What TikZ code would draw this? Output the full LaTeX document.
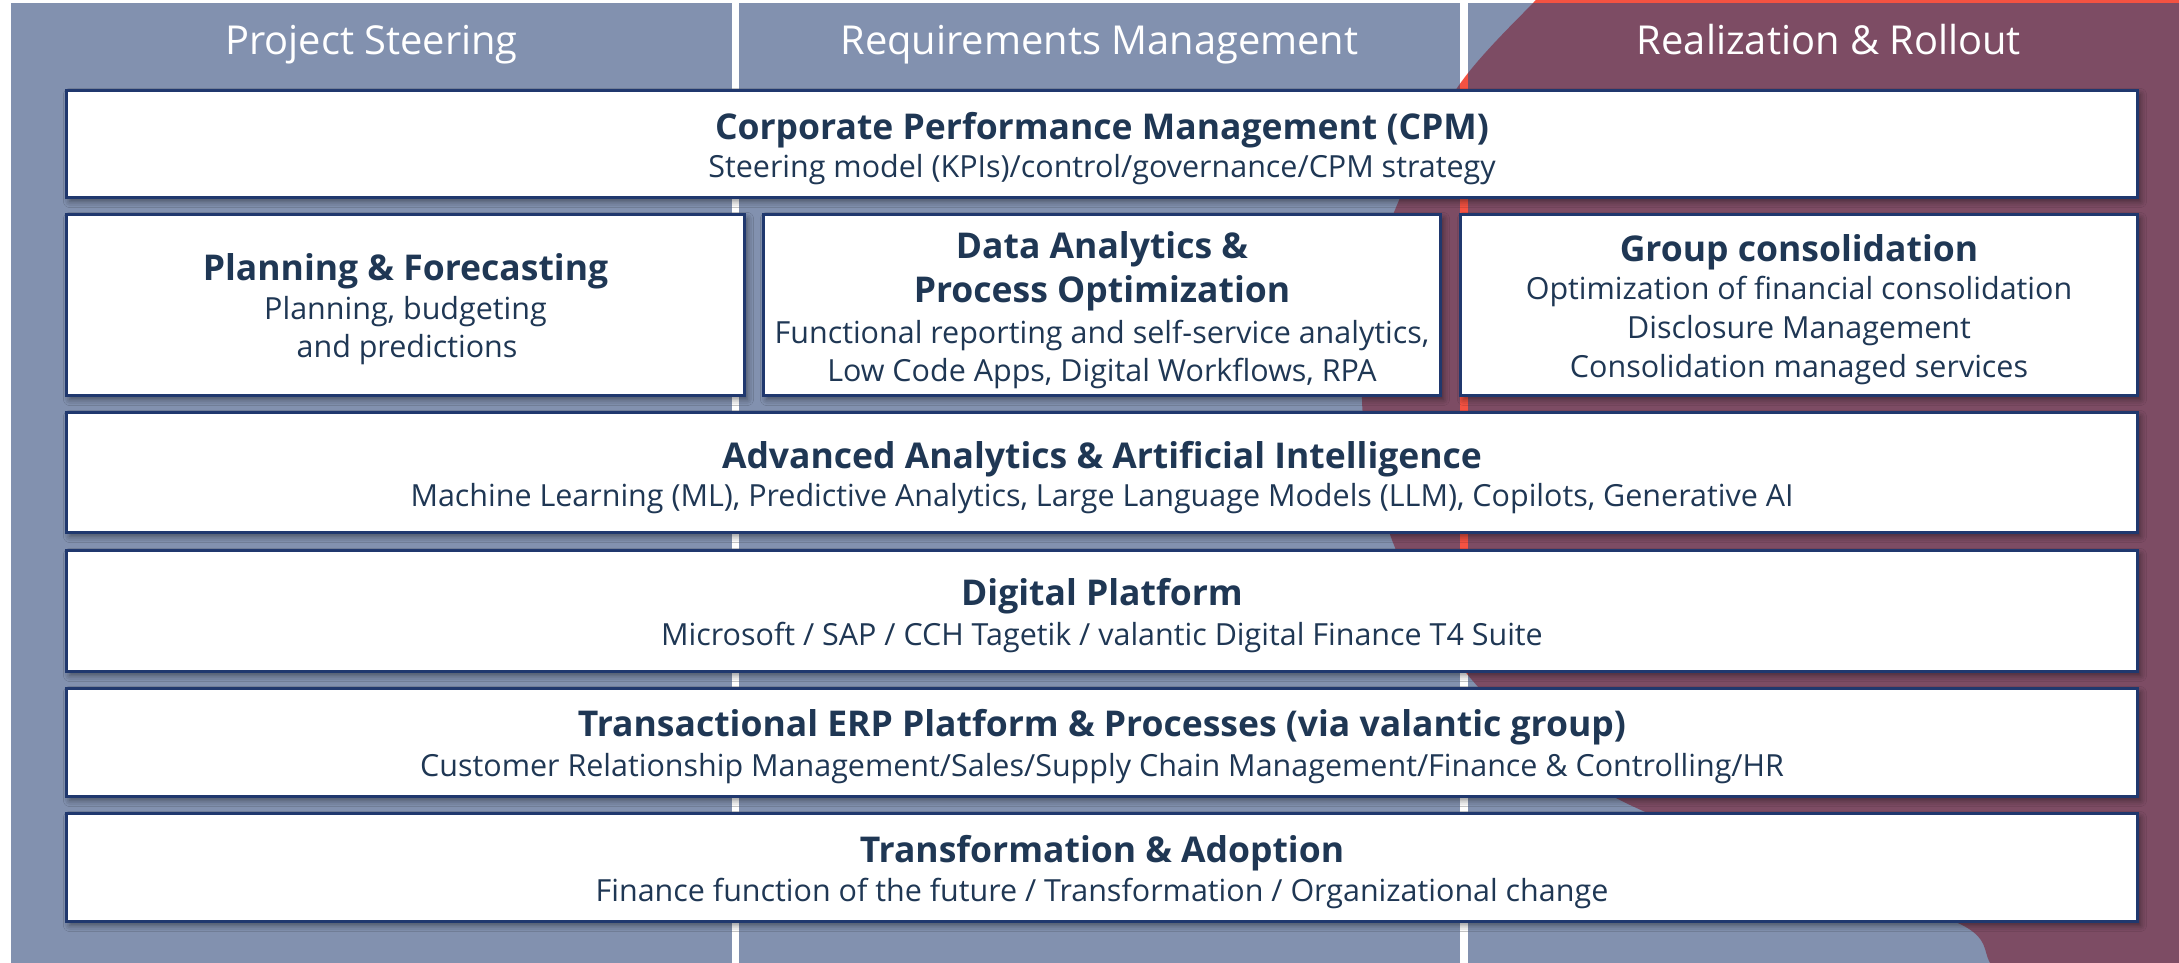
\documentclass[tikz,border=0pt]{standalone}
\usepackage{fontspec}
\setmainfont{Open Sans}
\usetikzlibrary{shadows.blur}
\definecolor{boxline}{RGB}{32,56,110}
\definecolor{txtc}{RGB}{31,55,84}
\definecolor{panelc}{RGB}{47,72,123}
\definecolor{circc}{RGB}{244,82,66}
\newlength\calw
\tikzset{
  panel/.style={fill=panelc, fill opacity=0.6},
  cardbox/.style={draw=boxline, line width=3pt, fill=white, inner sep=0pt,
    blur shadow={shadow xshift=3pt, shadow yshift=-4pt, shadow blur radius=6pt, shadow opacity=45}},
  hdr/.style={anchor=base, inner sep=0pt, text=white, font=\fontsize{\hdsize}{\hdsize}\selectfont},
  ttl/.style={anchor=base, inner sep=0pt, text=txtc, font=\fontsize{\ttsize}{\ttsize}\selectfont\bfseries},
  sub/.style={anchor=base, inner sep=0pt, text=txtc, font=\fontsize{\sbsize}{\sbsize}\selectfont},
}
\newcommand\cardat[5]{%
  \node[cardbox, minimum width={#4-#2-3}, minimum height={#5-#3-3}] (#1) at ({(#2+#4)/2},{(#3+#5)/2}) {};}
\begin{document}
\settowidth\calw{\fontsize{40}{48}\selectfont Requirements Management}%
\pgfmathsetmacro\hdsize{(518/\calw)*40}%
\settowidth\calw{\fontsize{40}{48}\selectfont\bfseries Corporate Performance Management (CPM)}%
\pgfmathsetmacro\ttsize{(774/\calw)*40}%
\settowidth\calw{\fontsize{40}{48}\selectfont Machine Learning (ML), Predictive Analytics, Large Language Models (LLM), Copilots, Generative AI}%
\pgfmathsetmacro\sbsize{(1383/\calw)*40}%
\begin{tikzpicture}[x=1pt,y=-1pt]
\fill[white] (0,0) rectangle (2179,963);
\useasboundingbox (0,0) rectangle (2179,963);
% decorative background shape
\fill[circc] plot[smooth, tension=0.55] coordinates {(1560,-20) (1533,3) (1457,88) (1397,205) (1368,300) (1362,400) (1372,470) (1392,540) (1425,610) (1472,680) (1545,750) (1630,805) (1800,872) (1960,924) (1990,963) (2005,1000)} -- (2200,1000) -- (2200,-20) -- cycle;
% column panels
\fill[panel] (11,3) rectangle (732,975);
\fill[panel] (739,3) rectangle (1460,975);
\fill[panel] (1468,3) rectangle (2195,975);
\node[hdr] (h1) at (371.5,55) {Project Steering};
\node[hdr] (h2) at (1099.5,55) {Requirements Management};
\node[hdr] (h3) at (1829,55) {Realization \& Rollout};
% cards
\cardat{cpm}{65}{89}{2139}{199}
\cardat{plan}{65}{213}{746}{397}
\cardat{dana}{762}{213}{1442}{397}
\cardat{grp}{1459}{213}{2139}{397}
\cardat{aai}{65}{411}{2139}{534}
\cardat{dig}{65}{549}{2139}{673}
\cardat{erp}{65}{687}{2139}{798}
\cardat{tra}{65}{812}{2139}{923}
% texts
\node[ttl] (cpm-t) at (1102,140) {Corporate Performance Management (CPM)};
\node[sub] (cpm-s) at (1102,178) {Steering model (KPIs)/control/governance/CPM strategy};
\node[ttl] (plan-t) at (405.5,280) {Planning \& Forecasting};
\node[sub] (plan-s1) at (405.5,319) {Planning, budgeting};
\node[sub] (plan-s2) at (407,357) {and predictions};
\node[ttl] (dana-t1) at (1102,258) {Data Analytics \&};
\node[ttl] (dana-t2) at (1102,302) {Process Optimization};
\node[sub] (dana-s1) at (1102,343) {Functional reporting and self-service analytics,};
\node[sub] (dana-s2) at (1102,381) {Low Code Apps, Digital Workflows, RPA};
\node[ttl] (grp-t) at (1799,261) {Group consolidation};
\node[sub] (grp-s1) at (1799,299) {Optimization of financial consolidation};
\node[sub] (grp-s2) at (1799,338) {Disclosure Management};
\node[sub] (grp-s3) at (1799,377) {Consolidation managed services};
\node[ttl] (aai-t) at (1102,468) {Advanced Analytics \& Artificial Intelligence};
\node[sub] (aai-s) at (1102,506) {Machine Learning (ML), Predictive Analytics, Large Language Models (LLM), Copilots, Generative AI};
\node[ttl] (dig-t) at (1102,605) {Digital Platform};
\node[sub] (dig-s) at (1102,645) {Microsoft / SAP / CCH Tagetik / valantic Digital Finance T4 Suite};
\node[ttl] (erp-t) at (1102,736) {Transactional ERP Platform \& Processes (via valantic group)};
\node[sub] (erp-s) at (1102,776) {Customer Relationship Management/Sales/Supply Chain Management/Finance \& Controlling/HR};
\node[ttl] (tra-t) at (1102,862) {Transformation \& Adoption};
\node[sub] (tra-s) at (1102,901) {Finance function of the future / Transformation / Organizational change};
\end{tikzpicture}
\end{document}
